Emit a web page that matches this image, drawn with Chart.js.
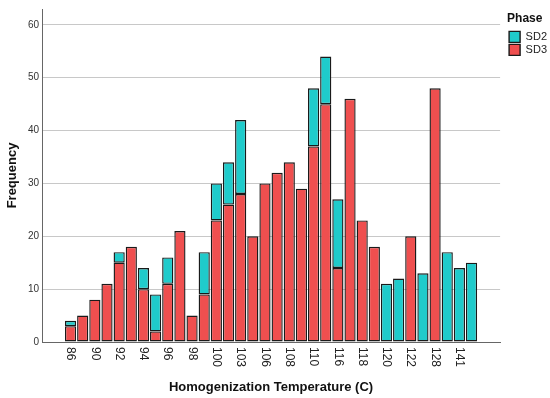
<!DOCTYPE html>
<html>
<head>
<meta charset="utf-8">
<script src="https://cdn.jsdelivr.net/npm/chart.js@4.4.1/dist/chart.umd.min.js"></script>
<style>
html,body{margin:0;padding:0;background:#fff;}
canvas{display:block;}
</style>
</head>
<body>
<canvas id="c" width="550" height="398"></canvas>
<script>
// Categories (temperature classes); every other label is shown on the axis
const categories = ['86','88','90','91','92','93','94','95','96','97','98','99','100','102','103','105','106','107','108','109','110','115','116','117','118','119','120','121','122','125','128','130','141','145'];
// SD3 (bottom of stack) frequencies
const sd3 = [3,5,8,11,15,18,10,2,11,21,5,9,23,26,28,20,30,32,34,29,37,45,14,46,23,18,0,0,20,0,48,0,0,0];
// SD2 (top of stack) frequencies
const sd2 = [1,0,0,0,2,0,4,7,5,0,0,8,7,8,14,0,0,0,0,0,11,9,13,0,0,0,11,12,0,13,0,17,14,15];
const yTicks = [0,10,20,30,40,50,60];
const seriesNames = ['SD3','SD2'];
const legendTitle = 'Phase';
const xTitle = 'Homogenization Temperature (C)';
const yTitle = 'Frequency';

Chart.defaults.font.family = "'Liberation Sans', Arial, sans-serif";
Chart.defaults.color = '#222';

const xLabelPlugin = {
  id: 'xLabels',
  afterLayout(chart) {
    // nudge the legend a little to the right of the plot, as in the original
    if (chart.legend) { chart.legend.left += 7; chart.legend.right += 7; }
  },
  afterDraw(chart) {
    const xs = chart.scales.x;
    const ctx = chart.ctx;
    ctx.save();
    ctx.font = "12px 'Liberation Sans', Arial, sans-serif";
    ctx.fillStyle = '#222';
    ctx.textAlign = 'left';
    ctx.textBaseline = 'middle';
    categories.forEach((lab, i) => {
      if (i % 2 !== 0) return;
      ctx.save();
      ctx.translate(xs.getPixelForValue(i), xs.top + 5);
      ctx.rotate(Math.PI / 2);
      ctx.fillText(lab, 0, 0);
      ctx.restore();
    });
    ctx.restore();
  }
};

const barStyle = {
  borderColor: '#1a1a1a',
  borderWidth: 1.4,
  borderSkipped: false,
  categoryPercentage: 1,
  barPercentage: 0.92
};

new Chart(document.getElementById('c'), {
  type: 'bar',
  data: {
    datasets: [
      Object.assign({
        label: seriesNames[0],
        data: sd3.map((v, i) => ({x: i, y: v})),
        backgroundColor: '#EF4F4F'
      }, barStyle),
      Object.assign({
        label: seriesNames[1],
        data: sd2.map((v, i) => ({x: i, y: v})),
        backgroundColor: '#1FCBCB'
      }, barStyle)
    ]
  },
  options: {
    responsive: false,
    devicePixelRatio: 1,
    animation: false,
    layout: { padding: { left: 0, right: 0, top: 7, bottom: 0 } },
    plugins: {
      tooltip: { enabled: false },
      legend: {
        position: 'right',
        align: 'start',
        reverse: true,
        title: {
          display: true,
          text: legendTitle,
          position: 'start',
          font: { size: 12, weight: 'bold' },
          color: '#111',
          padding: { top: 6, bottom: 2 }
        },
        labels: {
          boxWidth: 11,
          boxHeight: 11,
          padding: 2,
          font: { size: 11 },
          color: '#222'
        }
      }
    },
    scales: {
      x: {
        type: 'linear',
        min: -2.35,
        max: 35.35,
        stacked: true,
        offset: false,
        grid: { display: false },
        border: { color: '#666', width: 1 },
        ticks: { display: false },
        title: {
          display: true,
          text: xTitle,
          font: { size: 13, weight: 'bold' },
          color: '#111',
          padding: { top: 0, bottom: 3 }
        },
        afterFit(scale) { scale.height = 56; }
      },
      y: {
        min: 0,
        max: 63,
        stacked: true,
        afterBuildTicks(scale) { scale.ticks = yTicks.map(v => ({value: v})); },
        ticks: { font: { size: 10 }, color: '#333', padding: 3 },
        grid: { color: '#c8c8c8', lineWidth: 1, drawTicks: false },
        border: { color: '#666', width: 1 },
        title: {
          display: true,
          text: yTitle,
          font: { size: 13, weight: 'bold' },
          color: '#111',
          padding: { top: 5, bottom: 4 }
        },
        afterFit(scale) { scale.width = 42; }
      }
    }
  },
  plugins: [xLabelPlugin]
});
</script>
</body>
</html>
